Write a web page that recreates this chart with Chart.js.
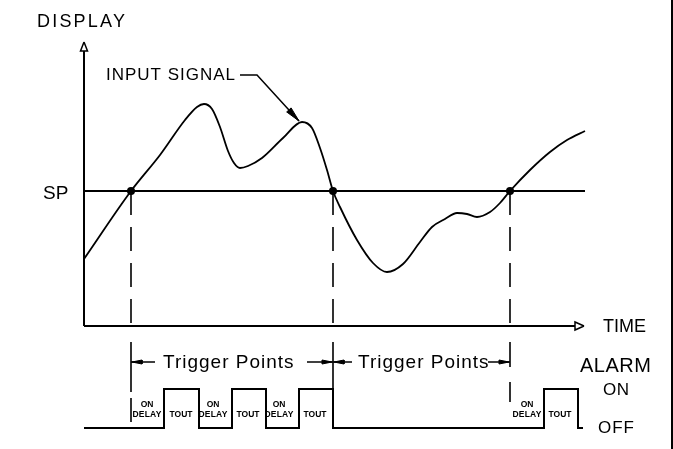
<!DOCTYPE html>
<html><head><meta charset="utf-8">
<script src="https://cdn.jsdelivr.net/npm/chart.js@4.4.1/dist/chart.umd.min.js"></script>
<style>html,body{margin:0;padding:0;background:#fff}canvas{display:block}</style>
</head><body>
<canvas id="c" width="673" height="449"></canvas>
<script>
// ---- data (y axis grows downwards on screen) ----
const signalTime  = [84,131,160,185,197,204,212,220,228,234,240,248,262,283,302,312,320,327,333,340,357,373,387,403,420,432,445,457,467,477,490,500,510,530,550,567,585];
const signalValue = [259,191,155,120,107,104,109,127,151,163,168,166,158,138,122,128,148,170,191,207,240,263,272,264,242,227,219,213,214,217,212,203,191,170,152,140,131];
const setPoint = 191;
const triggerTimes = [131,333,510];
const alarmTimes  = [84,164,199,232,266,299,333,544,578,583];
const alarmStates = [0,1,0,1,0,1,0,1,0,0];
const delayLabelTimes = [147,213,279,527];
const toutLabelTimes  = [181,248,315,560];

// ---- layout constants ----
const ON_LEVEL = 389, OFF_LEVEL = 428;
const AXIS_X0 = 84, AXIS_Y0 = 326, AXIS_TOP = 42, AXIS_RIGHT = 584, SP_END = 585;
const TRIG_Y = 362;

function head(tx, ty, dx, dy, len, hw) {
  const L = Math.hypot(dx, dy), ux = dx / L, uy = dy / L;
  const bx = tx - ux * len, by = ty - uy * len;
  return [{x:tx,y:ty},{x:bx - uy*hw, y:by + ux*hw},{x:bx + uy*hw, y:by - ux*hw},{x:tx,y:ty}];
}
const seg = (x1,y1,x2,y2) => [{x:x1,y:y1},{x:x2,y:y2}];
const base = {borderColor:'#000', backgroundColor:'#000', pointRadius:0, borderWidth:2, fill:false, tension:0};
const ds = [];
const add = (data, extra) => ds.push(Object.assign({}, base, {data}, extra||{}));

// input signal
add(signalTime.map((t,i)=>({x:t,y:signalValue[i]})), {cubicInterpolationMode:'monotone', borderWidth:1.8});
// set point line
add(seg(AXIS_X0,setPoint,SP_END,setPoint), {borderWidth:2});
// axes
add(seg(AXIS_X0,AXIS_TOP+9,AXIS_X0,AXIS_Y0), {borderWidth:2});
add(seg(AXIS_X0,AXIS_Y0,AXIS_RIGHT-9,AXIS_Y0), {borderWidth:2});
add(head(AXIS_X0,AXIS_TOP,0,-1,9,3.5), {borderWidth:1.5});
add(head(AXIS_RIGHT,AXIS_Y0,1,0,9,4), {borderWidth:1.5});
// dashed trigger verticals
const extEnds = [422,389,402];
const extDash = [[50,6,24,100],[],[25,15]];
triggerTimes.forEach((t,i)=>{
  add(seg(t,setPoint,t,AXIS_Y0), {borderWidth:1.6, borderDash:[24,12]});
  add(seg(t,342,t,extEnds[i]), {borderWidth:1.6, borderDash:extDash[i]});
});
// trigger point arrows
add(seg(131,TRIG_Y,155,TRIG_Y),{borderWidth:1.5});
add(seg(307,TRIG_Y,352,TRIG_Y),{borderWidth:1.5});
add(seg(488,TRIG_Y,510,TRIG_Y),{borderWidth:1.5});
[[132,-1],[332,1],[334,-1],[509,1]].forEach(([x,d])=>add(head(x,TRIG_Y,d,0,10,2),{fill:'shape',borderWidth:1}));
// input signal leader
add([{x:240,y:75},{x:257,y:75},{x:299,y:121}],{borderWidth:1.5});
add(head(299,121,42,46,15,3),{fill:'shape',borderWidth:1});
// alarm waveform
add(alarmTimes.map((t,i)=>({x:t,y:alarmStates[i]?ON_LEVEL:OFF_LEVEL})), {stepped:true, borderWidth:2});
// crossing dots
add(triggerTimes.map(t=>({x:t,y:setPoint})), {showLine:false, pointRadius:4, pointBackgroundColor:'#000', pointBorderWidth:0});
// right frame line
add(seg(672,0,672,449),{borderWidth:2});

const labels = [
  {t:'DISPLAY', x:37, y:27, f:'18px "Liberation Sans"', s:2.2},
  {t:'INPUT SIGNAL', x:106, y:80, f:'17px "Liberation Sans"', s:1},
  {t:'SP', x:43, y:199, f:'19px "Liberation Sans"', s:0},
  {t:'TIME', x:603, y:332, f:'18px "Liberation Sans"', s:0},
  {t:'Trigger Points', x:163, y:368, f:'19px "Liberation Sans"', s:1},
  {t:'Trigger Points', x:358, y:368, f:'19px "Liberation Sans"', s:1},
  {t:'ALARM', x:580, y:372, f:'20px "Liberation Sans"', s:0.5},
  {t:'ON', x:603, y:395, f:'17px "Liberation Sans"', s:0.5},
  {t:'OFF', x:598, y:433, f:'17px "Liberation Sans"', s:1},
];
delayLabelTimes.forEach(t=>{
  labels.push({t:'ON', x:t, y:407, f:'bold 8.5px "Liberation Sans"', s:0, c:true});
  labels.push({t:'DELAY', x:t, y:417, f:'bold 8.5px "Liberation Sans"', s:0.2, c:true});
});
toutLabelTimes.forEach(t=>labels.push({t:'TOUT', x:t, y:417, f:'bold 8.5px "Liberation Sans"', s:0, c:true}));

const textPlugin = {
  id:'texts',
  afterDatasetsDraw(chart){
    const ctx = chart.ctx, xs = chart.scales.x, ys = chart.scales.y;
    ctx.save();
    ctx.fillStyle = '#000';
    ctx.textBaseline = 'alphabetic';
    labels.forEach(l=>{
      ctx.font = l.f;
      ctx.letterSpacing = (l.s||0)+'px';
      ctx.textAlign = l.c ? 'center' : 'left';
      ctx.fillText(l.t, xs.getPixelForValue(l.x), ys.getPixelForValue(l.y));
    });
    ctx.restore();
  }
};

new Chart(document.getElementById('c'), {
  type:'line',
  data:{datasets:ds},
  options:{
    responsive:false, animation:false, devicePixelRatio:1, events:[],
    layout:{padding:0, autoPadding:false},
    plugins:{legend:{display:false}, tooltip:{enabled:false}},
    scales:{
      x:{type:'linear', min:0, max:673, display:false},
      y:{type:'linear', min:0, max:449, reverse:true, display:false}
    }
  },
  plugins:[textPlugin]
});
</script>
</body></html>
